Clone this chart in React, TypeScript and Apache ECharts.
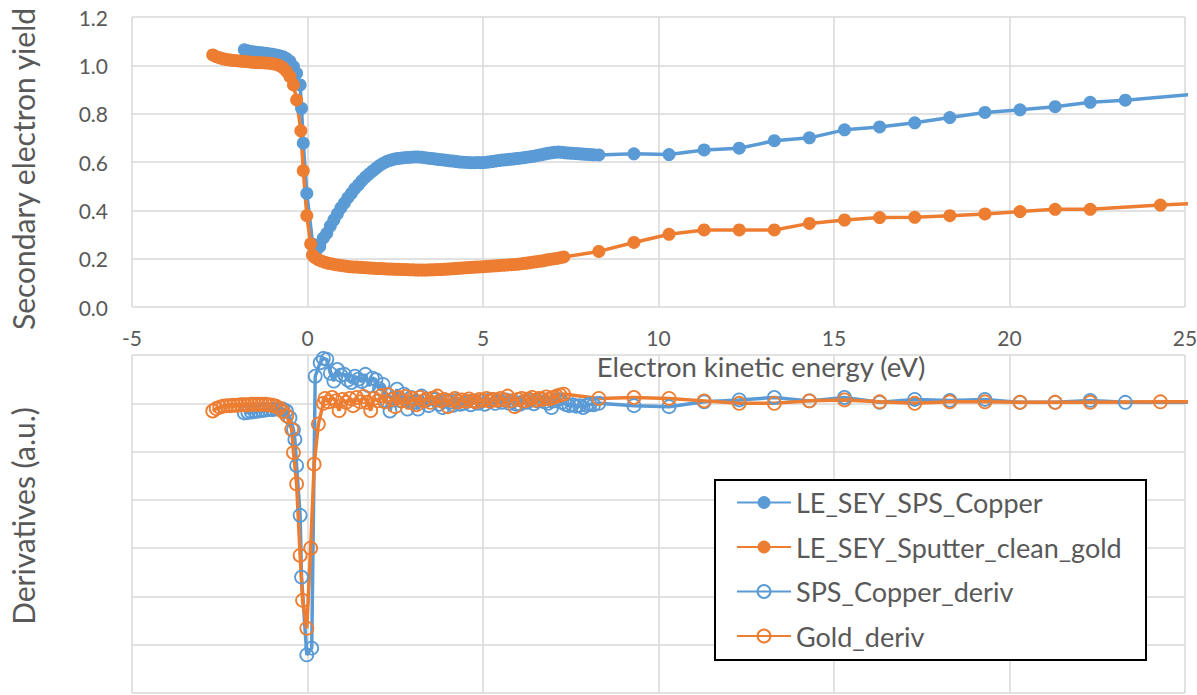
import React, { useEffect, useRef } from "react";
import * as echarts from "echarts";

const BLUE = "#5B9BD5";
const ORANGE = "#ED7D31";
const TEXT = "#595959";
const GRID = "#D9D9D9";
const FONT = "Lato, 'Noto Sans', sans-serif";

const X_TICKS = [-5, 0, 5, 10, 15, 20, 25];
const SEY_TICKS = [0, 0.2, 0.4, 0.6, 0.8, 1.0, 1.2];

const SERIES_NAMES = [
  "LE_SEY_SPS_Copper",
  "LE_SEY_Sputter_clean_gold",
  "SPS_Copper_deriv",
  "Gold_deriv",
];

// [energy (eV), SEY]
const copperSEY: [number, number][] = [
  [-1.8, 1.064], [-1.7, 1.06], [-1.6, 1.057], [-1.5, 1.055], [-1.4, 1.053], [-1.3, 1.052],
  [-1.2, 1.05], [-1.1, 1.048], [-1.0, 1.046], [-0.9, 1.043], [-0.8, 1.04], [-0.7, 1.036],
  [-0.6, 1.028], [-0.5, 1.016], [-0.4, 0.995], [-0.31, 0.967], [-0.21, 0.919], [-0.17, 0.822],
  [-0.12, 0.678], [-0.02, 0.47], [0.15, 0.26], [0.25, 0.236], [0.35, 0.25], [0.45, 0.285],
  [0.55, 0.305], [0.65, 0.335], [0.75, 0.36], [0.85, 0.385], [0.95, 0.41], [1.05, 0.43],
  [1.15, 0.452], [1.25, 0.47], [1.35, 0.49], [1.45, 0.505], [1.55, 0.522], [1.65, 0.537],
  [1.75, 0.55], [1.85, 0.562], [1.95, 0.574], [2.05, 0.585], [2.15, 0.594], [2.25, 0.602],
  [2.35, 0.607], [2.45, 0.611], [2.55, 0.614], [2.65, 0.616], [2.75, 0.618], [2.85, 0.619],
  [2.95, 0.62], [3.05, 0.621], [3.15, 0.621], [3.25, 0.62], [3.35, 0.618], [3.45, 0.616],
  [3.55, 0.614], [3.65, 0.612], [3.75, 0.61], [3.85, 0.609], [3.95, 0.607], [4.05, 0.605],
  [4.15, 0.604], [4.25, 0.602], [4.35, 0.6], [4.45, 0.599], [4.55, 0.598], [4.65, 0.597],
  [4.75, 0.597], [4.85, 0.598], [4.95, 0.597], [5.05, 0.598], [5.15, 0.6], [5.25, 0.602],
  [5.35, 0.604], [5.45, 0.606], [5.55, 0.608], [5.65, 0.609], [5.75, 0.611], [5.85, 0.612],
  [5.95, 0.614], [6.05, 0.616], [6.15, 0.618], [6.25, 0.62], [6.35, 0.622], [6.45, 0.624],
  [6.55, 0.627], [6.65, 0.63], [6.75, 0.633], [6.85, 0.636], [6.95, 0.638], [7.05, 0.64],
  [7.15, 0.641], [7.25, 0.64], [7.35, 0.638], [7.45, 0.637], [7.55, 0.636], [7.65, 0.635],
  [7.75, 0.634], [7.85, 0.633], [7.95, 0.632], [8.05, 0.631], [8.15, 0.63], [8.3, 0.629],
  [9.3, 0.634], [10.3, 0.631], [11.3, 0.65], [12.3, 0.657], [13.3, 0.688], [14.3, 0.7],
  [15.3, 0.733], [16.3, 0.745], [17.3, 0.762], [18.3, 0.784], [19.3, 0.805], [20.3, 0.816],
  [21.3, 0.829], [22.3, 0.847], [23.3, 0.856], [25.3, 0.881],
];

const goldSEY: [number, number][] = [
  [-2.7, 1.043], [-2.6, 1.036], [-2.5, 1.031], [-2.4, 1.027], [-2.3, 1.024], [-2.2, 1.022],
  [-2.1, 1.02], [-2.0, 1.019], [-1.9, 1.017], [-1.8, 1.016], [-1.7, 1.015], [-1.6, 1.013],
  [-1.5, 1.012], [-1.4, 1.011], [-1.3, 1.011], [-1.2, 1.01], [-1.1, 1.009], [-1.0, 1.007],
  [-0.9, 1.004], [-0.8, 0.999], [-0.7, 0.99], [-0.6, 0.975], [-0.5, 0.953], [-0.4, 0.919],
  [-0.31, 0.857], [-0.19, 0.729], [-0.12, 0.564], [-0.02, 0.378], [0.09, 0.261], [0.14, 0.215],
  [0.2, 0.205], [0.3, 0.196], [0.4, 0.19], [0.5, 0.185], [0.6, 0.181], [0.7, 0.178],
  [0.8, 0.175], [0.9, 0.173], [1.0, 0.171], [1.1, 0.169], [1.2, 0.167], [1.3, 0.166],
  [1.4, 0.165], [1.5, 0.164], [1.6, 0.163], [1.7, 0.162], [1.8, 0.161], [1.9, 0.16],
  [2.0, 0.159], [2.1, 0.159], [2.2, 0.158], [2.3, 0.157], [2.4, 0.157], [2.5, 0.156],
  [2.6, 0.156], [2.7, 0.155], [2.8, 0.155], [2.9, 0.154], [3.0, 0.154], [3.1, 0.153],
  [3.2, 0.153], [3.3, 0.153], [3.4, 0.153], [3.5, 0.154], [3.6, 0.154], [3.7, 0.155],
  [3.8, 0.155], [3.9, 0.156], [4.0, 0.157], [4.1, 0.158], [4.2, 0.159], [4.3, 0.16],
  [4.4, 0.161], [4.5, 0.162], [4.6, 0.163], [4.7, 0.164], [4.8, 0.165], [4.9, 0.166],
  [5.0, 0.167], [5.1, 0.168], [5.2, 0.169], [5.3, 0.17], [5.4, 0.171], [5.5, 0.172],
  [5.6, 0.173], [5.7, 0.174], [5.8, 0.175], [5.9, 0.176], [6.0, 0.177], [6.1, 0.179],
  [6.2, 0.181], [6.3, 0.183], [6.4, 0.185], [6.5, 0.187], [6.6, 0.189], [6.7, 0.191],
  [6.8, 0.194], [6.9, 0.197], [7.0, 0.199], [7.1, 0.201], [7.2, 0.204], [7.3, 0.207],
  [8.3, 0.23], [9.3, 0.267], [10.3, 0.301], [11.3, 0.319], [12.3, 0.319], [13.3, 0.319],
  [14.3, 0.346], [15.3, 0.36], [16.3, 0.37], [17.3, 0.371], [18.3, 0.378], [19.3, 0.385],
  [20.3, 0.395], [21.3, 0.404], [22.3, 0.404], [24.3, 0.422], [26.3, 0.435],
];

// [energy (eV), derivative (a.u.)]
const copperDeriv: [number, number][] = [
  [-1.8, -0.2], [-1.7, -0.19], [-1.6, -0.18], [-1.5, -0.17], [-1.4, -0.16], [-1.3, -0.15],
  [-1.2, -0.14], [-1.1, -0.13], [-1.0, -0.13], [-0.9, -0.12], [-0.8, -0.12], [-0.7, -0.12],
  [-0.6, -0.16], [-0.5, -0.3], [-0.4, -0.55], [-0.36, -0.75], [-0.31, -1.29], [-0.21, -2.32],
  [-0.17, -3.6], [-0.02, -5.21], [0.12, -5.07], [0.22, 0.56], [0.36, 0.84], [0.45, 0.93],
  [0.55, 0.91], [0.65, 0.62], [0.75, 0.46], [0.85, 0.7], [0.95, 0.58], [1.05, 0.6],
  [1.15, 0.48], [1.25, 0.43], [1.35, 0.56], [1.45, 0.5], [1.55, 0.45], [1.65, 0.6],
  [1.75, 0.36], [1.85, 0.52], [1.95, 0.49], [2.05, 0.3], [2.15, 0.39], [2.25, 0.05],
  [2.35, -0.16], [2.45, 0.1], [2.55, 0.29], [2.65, 0.05], [2.75, 0.19], [2.85, -0.12],
  [2.95, 0.12], [3.05, 0.02], [3.15, -0.12], [3.25, 0.15], [3.35, 0.05], [3.45, -0.05],
  [3.55, 0.1], [3.65, 0.08], [3.75, -0.02], [3.85, -0.09], [3.95, 0.05], [4.05, 0.02],
  [4.15, -0.04], [4.25, 0.06], [4.35, -0.02], [4.45, 0.0], [4.55, 0.04], [4.65, -0.03],
  [4.75, 0.05], [4.85, 0.0], [4.95, 0.04], [5.05, -0.02], [5.15, 0.06], [5.25, 0.08],
  [5.35, 0.0], [5.45, 0.05], [5.55, 0.02], [5.65, 0.07], [5.75, 0.0], [5.85, 0.05],
  [5.95, -0.02], [6.05, -0.02], [6.15, 0.04], [6.25, 0.02], [6.35, 0.06], [6.45, -0.01],
  [6.55, 0.05], [6.65, 0.08], [6.75, 0.03], [6.85, 0.0], [6.95, -0.09], [7.05, 0.05],
  [7.15, 0.08], [7.25, 0.02], [7.35, -0.02], [7.45, -0.05], [7.55, -0.03], [7.65, -0.06],
  [7.75, -0.05], [7.85, -0.09], [7.95, -0.04], [8.05, -0.02], [8.15, -0.03], [8.3, 0.0],
  [9.3, -0.05], [10.3, -0.07], [11.3, 0.03], [12.3, 0.07], [13.3, 0.12], [14.3, 0.05],
  [15.3, 0.12], [16.3, 0.02], [17.3, 0.08], [18.3, 0.06], [19.3, 0.08], [20.3, 0.02],
  [21.3, 0.02], [22.3, 0.06], [23.3, 0.02], [25.3, 0.02],
];

const goldDeriv: [number, number][] = [
  [-2.7, -0.16], [-2.6, -0.11], [-2.5, -0.08], [-2.4, -0.06], [-2.3, -0.05], [-2.2, -0.05],
  [-2.1, -0.04], [-2.0, -0.04], [-1.9, -0.03], [-1.8, -0.03], [-1.7, -0.03], [-1.6, -0.02],
  [-1.5, -0.02], [-1.4, -0.02], [-1.3, -0.02], [-1.2, -0.02], [-1.1, -0.03], [-1.0, -0.04],
  [-0.9, -0.06], [-0.8, -0.1], [-0.7, -0.17], [-0.59, -0.26], [-0.45, -0.54], [-0.4, -1.02],
  [-0.31, -1.67], [-0.21, -3.15], [-0.14, -4.08], [-0.02, -4.66], [0.09, -3.0], [0.19, -1.26],
  [0.31, -0.43], [0.45, 0.0], [0.5, 0.1], [0.6, 0.03], [0.7, 0.12], [0.8, 0.05],
  [0.9, -0.15], [1.0, 0.08], [1.1, 0.02], [1.2, 0.1], [1.3, -0.05], [1.4, 0.12],
  [1.5, 0.03], [1.6, 0.14], [1.7, 0.02], [1.8, -0.15], [1.9, 0.1], [2.0, 0.05],
  [2.1, 0.16], [2.2, 0.03], [2.3, 0.18], [2.4, 0.08], [2.5, -0.07], [2.6, 0.12],
  [2.7, 0.05], [2.8, 0.14], [2.9, 0.02], [3.0, 0.1], [3.1, -0.03], [3.2, 0.12],
  [3.3, 0.05], [3.4, 0.09], [3.5, 0.02], [3.6, 0.11], [3.7, 0.15], [3.8, 0.05],
  [3.9, 0.08], [4.0, -0.07], [4.1, 0.06], [4.2, 0.1], [4.3, 0.03], [4.4, 0.07],
  [4.5, 0.04], [4.6, 0.09], [4.7, 0.05], [4.8, 0.03], [4.9, 0.08], [5.0, 0.06],
  [5.1, 0.1], [5.2, 0.04], [5.3, 0.08], [5.4, 0.06], [5.5, 0.1], [5.6, 0.07],
  [5.7, 0.15], [5.8, 0.05], [5.9, -0.07], [6.0, 0.08], [6.1, 0.1], [6.2, 0.05],
  [6.3, 0.09], [6.4, 0.12], [6.5, 0.06], [6.6, 0.1], [6.7, 0.08], [6.8, 0.13],
  [6.9, 0.09], [7.0, 0.12], [7.1, 0.15], [7.2, 0.17], [7.3, 0.19],
  [8.3, 0.1], [9.3, 0.12], [10.3, 0.1], [11.3, 0.05], [12.3, 0.0], [13.3, 0.0],
  [14.3, 0.05], [15.3, 0.07], [16.3, 0.03], [17.3, 0.0], [18.3, 0.03], [19.3, 0.03],
  [20.3, 0.02], [21.3, 0.02], [22.3, 0.02], [24.3, 0.03], [26.3, 0.03],
];

export default function App() {
  const ref = useRef<HTMLDivElement>(null);

  useEffect(() => {
    if (!ref.current) return;
    const chart = echarts.init(ref.current, undefined, { renderer: "svg" });

    const splitLine = { show: true, lineStyle: { color: GRID, width: 1.5 } };
    const xMin = X_TICKS[0];
    const xMax = X_TICKS[X_TICKS.length - 1];

    const filled = (name: string, color: string, data: [number, number][]) => ({
      name,
      type: "line",
      xAxisIndex: 0,
      yAxisIndex: 0,
      data,
      symbol: "circle",
      symbolSize: 13,
      clip: true,
      itemStyle: { color },
      lineStyle: { color, width: 3.5 },
      emphasis: { disabled: true },
    });
    const hollow = (name: string, color: string, data: [number, number][]) => ({
      name,
      type: "line",
      xAxisIndex: 1,
      yAxisIndex: 1,
      data,
      symbol: "circle",
      symbolSize: 13,
      clip: true,
      itemStyle: { color: "rgba(255,255,255,0)", borderColor: color, borderWidth: 1.8 },
      lineStyle: { color, width: 3.5 },
      emphasis: { disabled: true },
    });

    chart.setOption({
      animation: false,
      textStyle: { fontFamily: FONT },
      grid: [
        { left: 132, right: 12, top: 17, height: 290, containLabel: false, outerBoundsMode: "none" },
        { left: 132, right: 12, top: 355, bottom: 2, containLabel: false, outerBoundsMode: "none" },
      ],
      xAxis: [
        {
          type: "value",
          gridIndex: 0,
          min: xMin,
          max: xMax,
          interval: 5,
          axisLine: { show: false },
          axisTick: { show: false },
          splitLine,
          axisLabel: { color: TEXT, fontSize: 21, margin: 20, fontFamily: FONT },
          name: "Electron kinetic energy (eV)",
          nameLocation: "middle",
          nameGap: 45,
          nameTextStyle: { color: TEXT, fontSize: 27.5, fontFamily: FONT, padding: [0, 0, 0, 205] },
        },
        {
          type: "value",
          gridIndex: 1,
          min: xMin,
          max: xMax,
          interval: 5,
          axisLine: { show: false },
          axisTick: { show: false },
          axisLabel: { show: false },
          splitLine,
        },
      ],
      yAxis: [
        {
          type: "value",
          gridIndex: 0,
          min: SEY_TICKS[0],
          max: SEY_TICKS[SEY_TICKS.length - 1],
          interval: 0.2,
          axisLine: { show: false },
          axisTick: { show: false },
          splitLine,
          axisLabel: {
            color: TEXT,
            fontSize: 21,
            margin: 24,
            fontFamily: FONT,
            formatter: (v: number) => v.toFixed(1),
          },
          name: "Secondary electron yield",
          nameLocation: "middle",
          nameRotate: 90,
          nameGap: 94,
          nameTextStyle: { color: TEXT, fontSize: 30, fontFamily: FONT, padding: [0, 14, 0, 0] },
        },
        {
          type: "value",
          gridIndex: 1,
          min: -6,
          max: 1,
          interval: 1,
          axisLine: { show: false },
          axisTick: { show: false },
          axisLabel: { show: false },
          splitLine,
          name: "Derivatives (a.u.)",
          nameLocation: "middle",
          nameRotate: 90,
          nameGap: 94,
          nameTextStyle: { color: TEXT, fontSize: 30, fontFamily: FONT, padding: [0, 0, 0, 16] },
        },
      ],
      legend: {
        data: SERIES_NAMES,
        orient: "vertical",
        left: 731,
        top: 484,
        itemWidth: 54,
        itemHeight: 16,
        itemGap: 17.5,
        z: 20,
        textStyle: { color: TEXT, fontSize: 27, fontFamily: FONT },
        selectedMode: false,
      },
      graphic: [
        {
          type: "rect",
          z: 10,
          shape: { x: 715, y: 480, width: 431, height: 180 },
          style: { fill: "#fff", stroke: "#000", lineWidth: 2 },
        },
      ],
      series: [
        filled(SERIES_NAMES[0], BLUE, copperSEY),
        filled(SERIES_NAMES[1], ORANGE, goldSEY),
        hollow(SERIES_NAMES[2], BLUE, copperDeriv),
        hollow(SERIES_NAMES[3], ORANGE, goldDeriv),
      ],
    });

    return () => chart.dispose();
  }, []);

  return (
    <div
      ref={ref}
      style={{ position: "fixed", left: 0, top: 0, width: 1197, height: 695, background: "#fff" }}
    />
  );
}
